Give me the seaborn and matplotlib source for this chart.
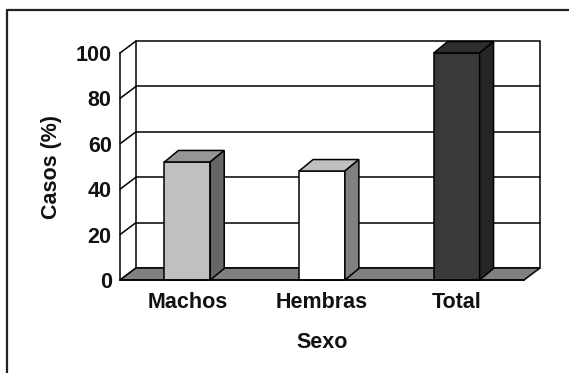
import matplotlib
matplotlib.use("Agg")
import matplotlib.pyplot as plt
import seaborn as sns
import pandas as pd
from matplotlib.patches import Polygon, Rectangle
from matplotlib.lines import Line2D

# ---- data ----
categories = ["Machos", "Hembras", "Total"]
values = [52, 48, 100]
y_ticks = [0, 20, 40, 60, 80, 100]
front_colors = ["#c0c0c0", "#ffffff", "#3a3a3a"]
top_colors = ["#969696", "#c0c0c0", "#2e2e2e"]
side_colors = ["#666666", "#808080", "#262626"]
x_label = "Sexo"
y_label = "Casos (%)"

sns.set_style("white")
plt.rcParams["font.family"] = ["Liberation Sans", "DejaVu Sans"]
plt.rcParams["font.weight"] = "bold"
plt.rcParams["text.color"] = "#111111"
plt.rcParams["axes.labelcolor"] = "#111111"
plt.rcParams["xtick.color"] = "#111111"
plt.rcParams["ytick.color"] = "#111111"

W, H, DPI = 569, 373, 100
fig = plt.figure(figsize=(W / DPI, H / DPI), dpi=DPI)
ax = fig.add_axes([120 / W, (H - 280) / H, (524 - 120) / W, (280 - 53) / H])
ax.set_facecolor("none")

df = pd.DataFrame({"cat": categories, "val": values})
sns.barplot(data=df, x="cat", y="val", hue="cat", palette=front_colors,
            legend=False, width=0.34, saturation=1, edgecolor="black",
            linewidth=1.1, ax=ax, zorder=4)
ax.set_xlim(-0.5, 2.5)
ax.set_ylim(0, 100)

# depth offsets in data units (pixels -> data)
inv = ax.transData.inverted()
def depth(dxpx, dypx):
    p0 = inv.transform(ax.transData.transform((0, 0)))
    p1 = inv.transform(ax.transData.transform((0, 0)) + [dxpx, dypx])
    return p1[0] - p0[0], p1[1] - p0[1]

fdx, fdy = depth(16, 12)    # walls / floor
bdx, bdy = depth(14, 11.5)  # bars

lw = 1.1
# back wall
ax.add_patch(Rectangle((-0.5 + fdx, fdy), 3, 100, facecolor="white",
                       edgecolor="black", linewidth=lw, zorder=0.5, clip_on=False))
# back wall gridlines and side wall diagonals
for t in y_ticks:
    if 0 < t < 100:
        ax.add_line(Line2D([-0.5 + fdx, 2.5 + fdx], [t + fdy, t + fdy],
                           color="black", linewidth=lw, zorder=1, clip_on=False))
    ax.add_line(Line2D([-0.5, -0.5 + fdx], [t, t + fdy], color="black",
                       linewidth=lw, zorder=1, clip_on=False))
# floor
ax.add_patch(Polygon([(-0.5, 0), (2.5, 0), (2.5 + fdx, fdy), (-0.5 + fdx, fdy)],
                     closed=True, facecolor="#808080", edgecolor="black",
                     linewidth=lw, zorder=2, clip_on=False))

# 3D faces for bars
bars = [pp for c in ax.containers for pp in c]
for p in bars:
    x0, w, h = p.get_x(), p.get_width(), p.get_height()
    k = int(round(x0 + w / 2))
    top = Polygon([(x0, h), (x0 + w, h), (x0 + w + bdx, h + bdy), (x0 + bdx, h + bdy)],
                  closed=True, facecolor=top_colors[k], edgecolor="black",
                  linewidth=lw, zorder=4, clip_on=False)
    side = Polygon([(x0 + w, 0), (x0 + w + bdx, bdy), (x0 + w + bdx, h + bdy), (x0 + w, h)],
                   closed=True, facecolor=side_colors[k], edgecolor="black",
                   linewidth=lw, zorder=4, clip_on=False)
    ax.add_patch(top)
    ax.add_patch(side)
    p.set_clip_on(False)

# spines / ticks
for s in ["top", "right"]:
    ax.spines[s].set_visible(False)
for s in ["left", "bottom"]:
    ax.spines[s].set_linewidth(lw)
    ax.spines[s].set_color("black")
    ax.spines[s].set_zorder(5)
ax.set_yticks(y_ticks)
ax.set_xticks(range(len(categories)))
ax.set_xticks([0.5, 1.5, 2.5], minor=True)
ax.set_xticklabels(categories)
ax.tick_params(axis="y", direction="out", length=3, width=lw, color="black",
               labelsize=15.5, pad=3)
ax.tick_params(axis="x", which="major", length=0, labelsize=15.5, pad=9)
ax.tick_params(axis="x", which="minor", direction="out", length=3, width=lw,
               color="black")
ax.grid(False)
ax.set_xlabel(x_label, fontsize=15.5, fontweight="bold", labelpad=13)
ax.set_ylabel(y_label, fontsize=15.5, fontweight="bold", labelpad=10)

# outer frame (partially visible)
fig.add_artist(Line2D([7 / W, 1.0], [1 - 10 / H, 1 - 10 / H], color="#222222",
                      linewidth=1.6, transform=fig.transFigure))
fig.add_artist(Line2D([7 / W, 7 / W], [0.0, 1 - 10 / H], color="#222222",
                      linewidth=1.6, transform=fig.transFigure))

fig.savefig("out.png", dpi=DPI)
